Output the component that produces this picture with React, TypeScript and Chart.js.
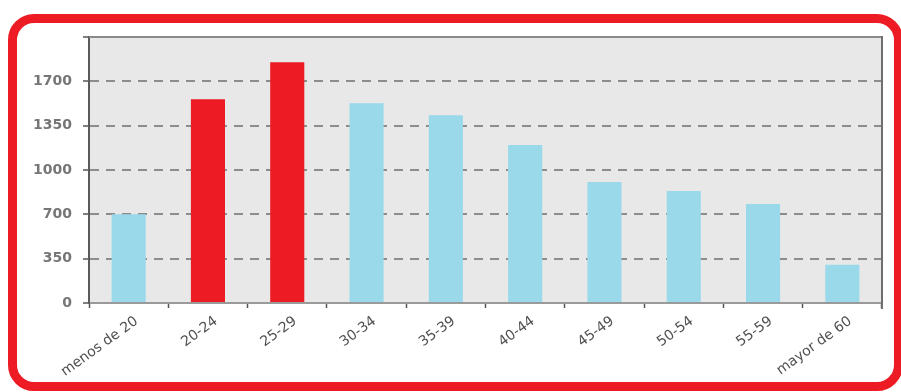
import React, { useEffect, useRef } from 'react';
import { Chart, registerables } from 'chart.js';

Chart.register(...registerables);

const categories = ['menos de 20', '20-24', '25-29', '30-34', '35-39', '40-44', '45-49', '50-54', '55-59', 'mayor de 60'];
const values = [700, 1608, 1900, 1577, 1482, 1247, 955, 884, 782, 302];
const highlighted = [false, true, true, false, false, false, false, false, false, false];
const yTickLabels = ['0', '350', '700', '1000', '1350', '1700', ''];

const RED = '#ed1c24';
const CYAN = '#99d9ea';

const framePlugin = {
  id: 'frame',
  beforeDraw(chart: any) {
    const { ctx, chartArea } = chart;
    const { left, top, right, bottom } = chartArea;
    ctx.save();
    ctx.fillStyle = '#e8e8e8';
    ctx.fillRect(left, top, right - left, bottom - top);
    ctx.restore();
  },
  afterDraw(chart: any) {
    const { ctx, chartArea } = chart;
    const { left, top, right, bottom } = chartArea;
    ctx.save();
    ctx.lineWidth = 2;
    ctx.strokeStyle = '#8a8a8a';
    ctx.beginPath();
    ctx.moveTo(left, top);
    ctx.lineTo(right, top);
    ctx.stroke();
    ctx.strokeStyle = '#6e6e6e';
    ctx.beginPath();
    ctx.moveTo(right, top - 1);
    ctx.lineTo(right, bottom + 6);
    ctx.stroke();
    ctx.restore();
  },
};

export default function App() {
  const canvasRef = useRef<HTMLCanvasElement | null>(null);

  useEffect(() => {
    if (!canvasRef.current) return;
    const chart = new Chart(canvasRef.current, {
      type: 'bar',
      data: {
        labels: categories,
        datasets: [
          {
            data: values,
            backgroundColor: highlighted.map((h) => (h ? RED : CYAN)),
            borderWidth: 0,
            barPercentage: 0.43,
            categoryPercentage: 1,
          },
        ],
      },
      options: {
        animation: false,
        responsive: true,
        maintainAspectRatio: false,
        layout: { padding: { top: 37, right: 19, left: 0, bottom: 0 } },
        plugins: {
          legend: { display: false },
          tooltip: { enabled: false },
          title: { display: false },
        },
        scales: {
          x: {
            afterFit: (scale: any) => {
              scale.height = 89;
            },
            grid: {
              display: true,
              offset: true,
              drawOnChartArea: false,
              drawTicks: true,
              tickLength: 5,
              tickColor: '#555',
              tickWidth: 1.5,
              tickBorderDash: [],
            },
            border: { display: true, color: '#9a9a9a', width: 2 },
            ticks: {
              autoSkip: false,
              minRotation: 36,
              maxRotation: 36,
              labelOffset: 8,
              padding: 5,
              color: '#505050',
              font: { family: 'DejaVu Sans', size: 14 },
            },
          },
          y: {
            min: 0,
            max: 2100,
            afterFit: (scale: any) => {
              scale.width = 89;
            },
            grid: {
              display: true,
              color: (ctx: any) => (ctx.index === 0 || ctx.index === 6 ? 'rgba(0,0,0,0)' : '#8c8c8c'),
              lineWidth: 2,
              drawTicks: true,
              tickLength: 6,
              tickColor: '#555',
              tickWidth: 1.5,
              tickBorderDash: [],
            },
            border: { display: true, color: '#5a5a5a', width: 2, dash: [9, 7] },
            ticks: {
              stepSize: 350,
              padding: 11,
              color: '#767676',
              font: { family: 'DejaVu Sans', size: 14, weight: 'bold' },
              callback: (_v: any, i: number) => yTickLabels[i] ?? '',
            },
          },
        },
      },
      plugins: [framePlugin],
    });
    return () => chart.destroy();
  }, []);

  return (
    <div
      style={{
        position: 'fixed',
        left: 0,
        top: 0,
        width: 901,
        height: 392,
        overflow: 'hidden',
        background: '#fff',
      }}
    >
      <div style={{ position: 'absolute', left: 0, top: 0, width: 901, height: 392 }}>
        <canvas ref={canvasRef} />
      </div>
      <div
        style={{
          position: 'absolute',
          left: 8,
          top: 14,
          width: 895,
          height: 377,
          boxSizing: 'border-box',
          border: `9px solid ${RED}`,
          borderRadius: 26,
          pointerEvents: 'none',
        }}
      />
    </div>
  );
}
